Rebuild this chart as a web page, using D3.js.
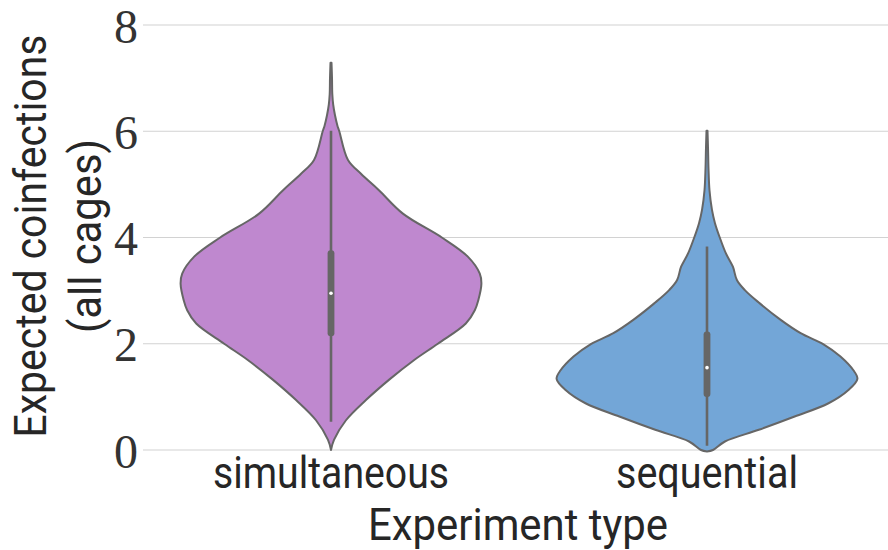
<!DOCTYPE html>
<html>
<head>
<meta charset="utf-8">
<script src="https://cdn.jsdelivr.net/npm/d3@7"></script>
<style>
  html, body { margin: 0; padding: 0; background: #fff; }
  svg { display: block; }
</style>
</head>
<body>
<svg id="chart" width="888" height="550"></svg>
<script>
// ---------- data ----------
const categories = ["simultaneous", "sequential"];
const colors = ["#bf88cf", "#73a6d7"];
const yTicks = [0, 2, 4, 6, 8];

// violin outlines: value -> relative density
const simValues   = [7.29, 7.0, 6.7, 6.5, 6.3, 6.1, 6.0, 5.46, 5.2, 4.89, 4.45, 4.0, 3.64, 3.32, 3.13, 2.82, 2.63, 2.38, 2.0, 1.69, 1.32, 0.94, 0.56, 0.19, 0.0];
const simDensity  = [0.5, 1.0, 1.3, 2.2, 4, 6.5, 8.3, 17, 30, 48, 72, 111, 137, 149, 150.6, 147.5, 144, 135, 107, 83, 58, 35, 15, 3, 0];
const seqValues   = [6.01, 5.7, 5.3, 4.89, 4.52, 4.27, 3.99, 3.7, 3.45, 3.2, 3.01, 2.76, 2.45, 2.2, 1.99, 1.76, 1.5, 1.34, 1.13, 0.88, 0.63, 0.38, 0.16, 0.0, -0.03];
const seqDensity  = [0.5, 1, 1.5, 2.5, 5, 8, 13, 19, 26, 30, 38, 53, 74, 94, 117, 134, 147, 151, 142, 122, 88, 52, 18, 6, 0];

// box stats: [whiskerLow, q1, median, q3, whiskerHigh]
const simBox = [0.53, 2.14, 2.95, 3.76, 6.01];
const seqBox = [0.08, 1.00, 1.55, 2.23, 3.83];

const yLabelLines = ["Expected coinfections", "(all cages)"];
const xLabel = "Experiment type";

(function () {
// ---------- layout ----------
const svg = d3.select("#chart");
const W = 888;
const mLeft = 143, mRight = 895, mTop = 25, mBottom = 450;

const x = d3.scalePoint().domain(categories).range([mLeft, mRight]).padding(0.5);
const y = d3.scaleLinear().domain([0, 8]).range([mBottom, mTop]);

const series = [
  { cat: categories[0], color: colors[0], values: simValues, dens: simDensity, box: simBox },
  { cat: categories[1], color: colors[1], values: seqValues, dens: seqDensity, box: seqBox }
];

const textColor = "#262626";
const lineColor = "#666666";

// gridlines
svg.append("g").selectAll("line").data(yTicks).join("line")
  .attr("x1", mLeft).attr("x2", W)
  .attr("y1", d => y(d)).attr("y2", d => y(d))
  .attr("stroke", "#d2d2d2").attr("stroke-width", 1.2);

// y tick labels (serif, LaTeX look)
svg.append("g").selectAll("text").data(yTicks).join("text")
  .attr("x", 138).attr("y", d => y(d) + 17.5)
  .attr("text-anchor", "end")
  .attr("font-family", "'Liberation Serif', 'DejaVu Serif', serif")
  .attr("font-size", 48)
  .attr("fill", "#333333")
  .text(d => d);

// violins
const halfWidth = x.step() * 0.4;
series.forEach(s => {
  const maxD = d3.max(s.dens);
  const w = d3.scaleLinear().domain([0, maxD]).range([0, halfWidth]);
  const cx = x(s.cat);
  const pts = s.values.map((v, i) => ({ v, d: s.dens[i] }));
  const area = d3.area()
    .y(p => y(p.v))
    .x0(p => cx - w(p.d))
    .x1(p => cx + w(p.d))
    .curve(d3.curveCatmullRom.alpha(0.5));
  svg.append("path")
    .attr("d", area(pts))
    .attr("fill", s.color)
    .attr("stroke", lineColor)
    .attr("stroke-width", 2)
    .attr("stroke-linejoin", "round");

  const [lo, q1, med, q3, hi] = s.box;
  svg.append("line")
    .attr("x1", cx).attr("x2", cx)
    .attr("y1", y(hi)).attr("y2", y(lo))
    .attr("stroke", lineColor).attr("stroke-width", 2.6);
  svg.append("rect")
    .attr("x", cx - 3.4).attr("width", 6.8)
    .attr("y", y(q3)).attr("height", y(q1) - y(q3))
    .attr("rx", 3).attr("fill", lineColor);
  svg.append("circle")
    .attr("cx", cx).attr("cy", y(med)).attr("r", 1.8)
    .attr("fill", "#ffffff");
});

// x tick labels
const sansFont = "Roboto, 'Open Sans', 'DejaVu Sans', sans-serif";
const xTickWidths = [236, 182];
svg.append("g").selectAll("text").data(categories).join("text")
  .attr("x", d => x(d)).attr("y", 488)
  .attr("text-anchor", "middle")
  .attr("font-family", sansFont)
  .attr("font-size", 45)
  .attr("fill", textColor)
  .attr("textLength", (d, i) => xTickWidths[i])
  .attr("lengthAdjust", "spacingAndGlyphs")
  .text(d => d);

// x label
svg.append("text")
  .attr("x", 518).attr("y", 540)
  .attr("text-anchor", "middle")
  .attr("font-family", sansFont)
  .attr("font-size", 45)
  .attr("fill", textColor)
  .attr("textLength", 300)
  .attr("lengthAdjust", "spacingAndGlyphs")
  .text(xLabel);

// y label (two lines)
const yLabWidths = [403, 194];
const yLabBase = [46, 101];
yLabelLines.forEach((t, i) => {
  svg.append("text")
    .attr("transform", `translate(${yLabBase[i]},236) rotate(-90)`)
    .attr("text-anchor", "middle")
    .attr("font-family", sansFont)
    .attr("font-size", 44)
    .attr("fill", textColor)
    .attr("textLength", yLabWidths[i])
    .attr("lengthAdjust", "spacingAndGlyphs")
    .text(t);
});
})();
</script>
</body>
</html>
